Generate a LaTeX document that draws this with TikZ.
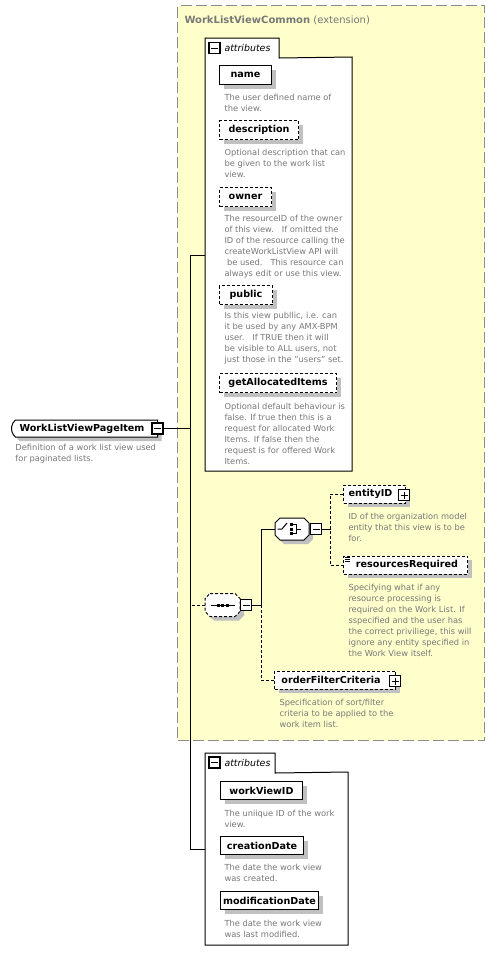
\documentclass[tikz,border=0pt]{standalone}
\usepackage{fontspec}
\setmainfont{DejaVu Sans}
\usetikzlibrary{shapes.misc,shadows}
\definecolor{extfill}{RGB}{255,255,204}
\definecolor{extborder}{RGB}{140,140,140}
\definecolor{desc}{RGB}{120,120,120}
\definecolor{shadowc}{RGB}{192,192,192}
\newcommand\xnamefont{\fontsize{9.6}{11}\selectfont\bfseries}
\newcommand\xdescfont{\fontsize{8.3}{11}\selectfont}
\begin{document}
\begin{tikzpicture}[x=1pt,y=-1pt,line width=1pt,
  sh/.style={general shadow={fill=shadowc, shadow xshift=4pt, shadow yshift=-4pt}},
  attrbox/.style={draw, line width=1pt, fill=white, sh, font=\xnamefont, inner sep=0pt, minimum height=19pt, anchor=north west},
  optbox/.style={attrbox, dash pattern=on 3pt off 2pt},
  elbox/.style={draw, line width=1pt, fill=white, sh, font=\xnamefont, inner sep=0pt, minimum height=18pt, anchor=west},
  optelbox/.style={elbox, dash pattern=on 3pt off 2pt},
  desctext/.style={font=\xdescfont, text=desc, align=left, inner sep=0pt, anchor=north west},
  panelpart/.style={fill=white, inner sep=0pt, anchor=north west, draw=none},
  tabtext/.style={font=\fontsize{9.4}{11}\selectfont\itshape, inner sep=0pt, anchor=west},
  pmbase/.style={draw, line width=1.1pt, fill=white, minimum size=11pt, inner sep=0pt},
  minusbox/.style={pmbase, path picture={\draw[line width=1pt] ([xshift=2pt]path picture bounding box.west) -- ([xshift=-2pt]path picture bounding box.east);}},
  plusbox/.style={pmbase, path picture={\draw[line width=1pt] ([xshift=2pt]path picture bounding box.west) -- ([xshift=-2pt]path picture bounding box.east) ([yshift=-2pt]path picture bounding box.north) -- ([yshift=2pt]path picture bounding box.south);}},
  extbox/.style={draw=extborder, fill=extfill, line width=1.3pt, dash pattern=on 11pt off 4pt, inner sep=0pt},
  dsh/.style={dash pattern=on 3pt off 2pt},
  compnode/.style={draw=none, inner sep=0pt, anchor=west},
  oct/.style={insert path={([xshift=5pt]#1.north west) -- ([xshift=-5pt]#1.north east) -- ([yshift=-5pt]#1.north east) -- ([yshift=5pt]#1.south east) -- ([xshift=-5pt]#1.south east) -- ([xshift=5pt]#1.south west) -- ([yshift=5pt]#1.south west) -- ([yshift=-5pt]#1.north west) -- cycle}}
]
\fill[white] (0,0) rectangle (495,962);
\useasboundingbox (0,0) rectangle (495,962);

% ---------- extension container
\node[extbox, anchor=north west, minimum width=307pt, minimum height=735pt] (ext) at (177,5) {};
\node[anchor=base west, inner sep=0pt, text=desc, font=\fontsize{10}{12}\selectfont] (exttitle) at (184,23) {\textbf{WorkListViewCommon} (extension)};

% ---------- attributes panel 1
\node[panelpart, minimum width=146pt, minimum height=413pt] (box1) at (205,57) {};
\node[panelpart, minimum width=73pt, minimum height=19pt] (tab1) at (205,38) {};
\draw (tab1.south west) -- (tab1.north west) -- (tab1.north east) -- (tab1.south east) -- (box1.north east) -- (box1.south east) -- (box1.south west) -- cycle;
\node[minusbox] (tab1m) at (214.5,48) {};
\node[tabtext] (tab1t) at (224,48) {attributes};

\node[attrbox, minimum width=52pt] (aname) at (219,65) {name};
\node[desctext] (dname) at (224,93.7) {The user defined name of\\the view.};
\node[optbox, minimum width=79pt] (adesc) at (219,120) {description};
\node[desctext] (ddesc) at (224,148.7) {Optional description that can\\be given to the work list\\view.};
\node[optbox, minimum width=52pt] (aowner) at (219,187) {owner};
\node[desctext] (downer) at (224,214.7) {The resourceID of the owner\\of this view.\ \ \ If omitted the\\ID of the resource calling the\\createWorkListView API will\\\hspace*{2.5pt}be used.\ \ \ This resource can\\always edit or use this view.};
\node[optbox, minimum width=53pt] (apublic) at (219,285) {public};
\node[desctext] (dpublic) at (224,311.7) {Is this view publlic, i.e. can\\it be used by any AMX-BPM\\user.\ \ \ If TRUE then it will\\be visible to ALL users, not\\just those in the "users" set.};
\node[optbox, minimum width=117pt] (agai) at (219,373) {getAllocatedItems};
\node[desctext] (dgai) at (224,402.7) {Optional default behaviour is\\false. If true then this is a\\request for allocated Work\\Items. If false then the\\request is for offered Work\\Items.};

% ---------- root element
\node[rounded rectangle, rounded rectangle east arc=none, rounded rectangle arc length=100,
      draw, line width=1pt, fill=white, sh, font=\xnamefont, inner sep=0pt,
      minimum width=146pt, minimum height=17pt, anchor=west] (elem) at (11,428.5) {WorkListViewPageItem\hspace*{6pt}};
\node[minusbox] (elemm) at (157.5,428.5) {};
\node[desctext] (delem) at (15,443.7) {Definition of a work list view used\\for paginated lists.};

% ---------- tree trunk
\coordinate (t1) at (190,255);
\coordinate (t2) at (190,849);
\draw (elemm.east) -- (elemm.east -| t1);
\draw (t1) -- (t2);
\draw (t1) -- (t1 -| box1.west);

% ---------- sequence
\node[compnode, minimum width=34pt, minimum height=22pt] (seq) at (205,605) {};
\fill[shadowc, transform canvas={shift={(4pt,-4pt)}}, oct=seq];
\draw[fill=white, dsh, oct=seq];
\begin{scope}[shift={(seq.center)}]
  \draw (-12,0) -- (12,0);
  \foreach \d in {-4.5,0,4.5} \fill (\d-1.5,-1.5) rectangle (\d+1.5,1.5);
\end{scope}
\node[minusbox, anchor=west] (seqm) at (seq.east) {};
\draw[dsh] (seq.west) -- (seq.west -| t1);
\coordinate (sj) at ([xshift=9pt]seqm.east);
\draw (seqm.east) -- (sj);

% ---------- choice
\node[compnode, minimum width=33pt, minimum height=21pt] (choice) at (275,529) {};
\fill[shadowc, transform canvas={shift={(4pt,-4pt)}}, oct=choice];
\draw[fill=white, oct=choice];
\begin{scope}[shift={(choice.center)}]
  \draw (-14.5,0) -- (-10,0) -- (-5,-6);
  \foreach \d in {-4.5,0,4.5} \fill (-2.2,\d-1.5) rectangle (1,\d+1.5);
  \draw (1,-4.5) -- (4.5,-4.5) -- (4.5,4.5) -- (1,4.5);
  \draw (4.5,0) -- (8.5,0);
\end{scope}
\node[minusbox, anchor=west] (chm) at ([xshift=1pt]choice.east) {};
\draw (sj) |- (choice.west);
\coordinate (cj) at ([xshift=8pt]chm.east);
\draw (chm.east) -- (cj);

\node[optelbox, minimum width=62pt] (entity) at (343,494) {entityID\hspace*{8pt}};
\node[plusbox] (entityp) at (404,495) {};
\node[desctext] (dentity) at (348,512.7) {ID of the organization model\\entity that this view is to be\\for.};

\node[optelbox, minimum width=124pt] (rr) at (343,565) {\hspace*{3pt}resourcesRequired};
\draw[line width=0.8pt] ([shift={(2pt,-1.8pt)}]rr.north west) -- +(5pt,0pt)
  ([shift={(2pt,-3.6pt)}]rr.north west) -- +(5pt,0pt)
  ([shift={(2pt,-5.4pt)}]rr.north west) -- +(5pt,0pt);
\node[desctext] (drr) at (348,583.7) {Specifying what if any\\resource processing is\\required on the Work List. If\\sspecified and the user has\\the correct priviliege, this will\\ignore any entity specified in\\the Work View itself.};

\draw[dsh] (entity.west) -| (cj) |- (rr.west);

\node[optelbox, minimum width=121pt] (ofc) at (274,680) {orderFilterCriteria\hspace*{8pt}};
\node[plusbox] (ofcp) at (395,681) {};
\node[desctext] (dofc) at (279,698.7) {Specification of sort/filter\\criteria to be applied to the\\work item list.};
\draw[dsh] (sj) |- (ofc.west);

% ---------- attributes panel 2
\node[panelpart, minimum width=142pt, minimum height=172pt] (box2) at (205,772) {};
\node[panelpart, minimum width=69pt, minimum height=19pt] (tab2) at (205,753) {};
\draw (tab2.south west) -- (tab2.north west) -- (tab2.north east) -- (tab2.south east) -- (box2.north east) -- (box2.south east) -- (box2.south west) -- cycle;
\node[minusbox] (tab2m) at (214.5,762.5) {};
\node[tabtext] (tab2t) at (224,762.5) {attributes};
\draw (t2) -- (t2 -| box2.west);

\node[attrbox, minimum width=82pt, minimum height=18pt] (awv) at (220,781) {workViewID};
\node[desctext] (dwv) at (224,809.7) {The uniique ID of the work\\view.};
\node[attrbox, minimum width=83pt, minimum height=18pt] (acd) at (220,836) {creationDate};
\node[desctext] (dcd) at (224,863.7) {The date the work view\\was created.};
\node[attrbox, minimum width=98pt, minimum height=18pt] (amd) at (220,891) {modificationDate};
\node[desctext] (dmd) at (224,919.7) {The date the work view\\was last modified.};
\end{tikzpicture}
\end{document}
